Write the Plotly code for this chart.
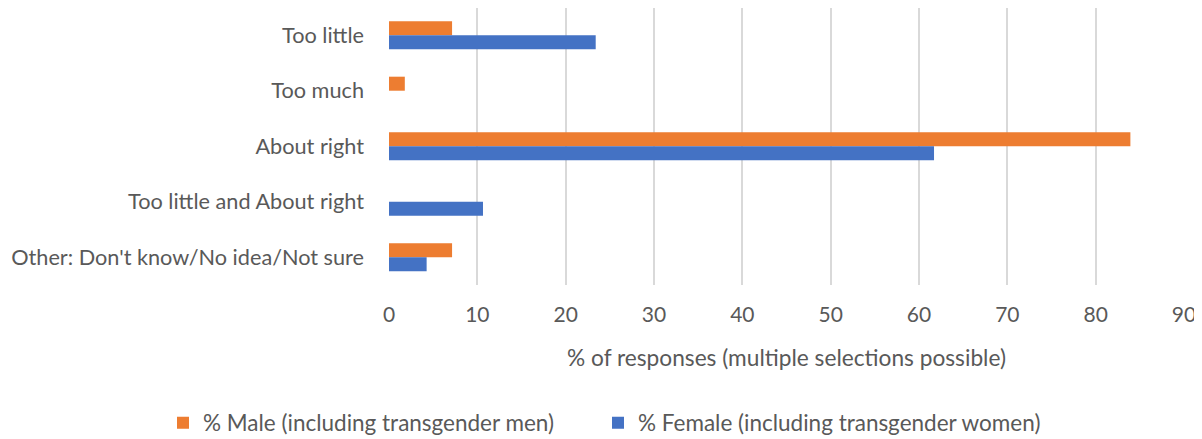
import plotly.graph_objects as go

categories = ["Too little", "Too much", "About right", "Too little and About right",
              "Other: Don't know/No idea/Not sure"]
male = [7.14, 1.79, 83.93, 0, 7.14]
female = [23.40, 0, 61.70, 10.64, 4.26]
x_ticks = [0, 10, 20, 30, 40, 50, 60, 70, 80, 90]

FONT = "Lato, Carlito, Calibri, sans-serif"
GRAY = "#595959"
# the page body adds an 8px margin, so the figure is sized to fit the window
W, H = 1194, 431

fig = go.Figure()
fig.add_trace(go.Bar(y=categories, x=male, orientation="h",
                     name="% Male (including transgender men)",
                     marker=dict(color="#ED7D31", line=dict(width=0)),
                     legend="legend"))
fig.add_trace(go.Bar(y=categories, x=female, orientation="h",
                     name="% Female (including transgender women)",
                     marker=dict(color="#4472C4", line=dict(width=0)),
                     legend="legend2"))

leg_common = dict(orientation="h", xref="container", yref="container",
                  xanchor="left", yanchor="middle", y=1 - 415 / H,
                  font=dict(size=22.5, color=GRAY), itemwidth=30,
                  bgcolor="rgba(0,0,0,0)")

fig.update_layout(
    width=W, height=H,
    margin=dict(l=381, r=18, t=0, b=154, autoexpand=False),
    paper_bgcolor="white", plot_bgcolor="white",
    barmode="group", bargap=0.495, bargroupgap=0,
    font=dict(family=FONT, color=GRAY, size=20),
    showlegend=True,
    legend=dict(x=155 / W, **leg_common),
    legend2=dict(x=590 / W, **leg_common),
    xaxis=dict(range=[0, 90], tickvals=x_ticks, showgrid=True, gridcolor="#D9D9D9",
               gridwidth=1.5, zeroline=False, showline=False, automargin=False,
               tickfont=dict(size=21, color=GRAY), ticklabelstandoff=15,
               title=dict(text="% of responses (multiple selections possible)",
                          font=dict(size=22.7, color=GRAY), standoff=25)),
    yaxis=dict(range=[4.5, -0.49], showgrid=False, showline=False, zeroline=False,
               automargin=False,
               tickfont=dict(size=21.7, color=GRAY), ticklabelstandoff=24),
)

fig.write_html("out.html")
